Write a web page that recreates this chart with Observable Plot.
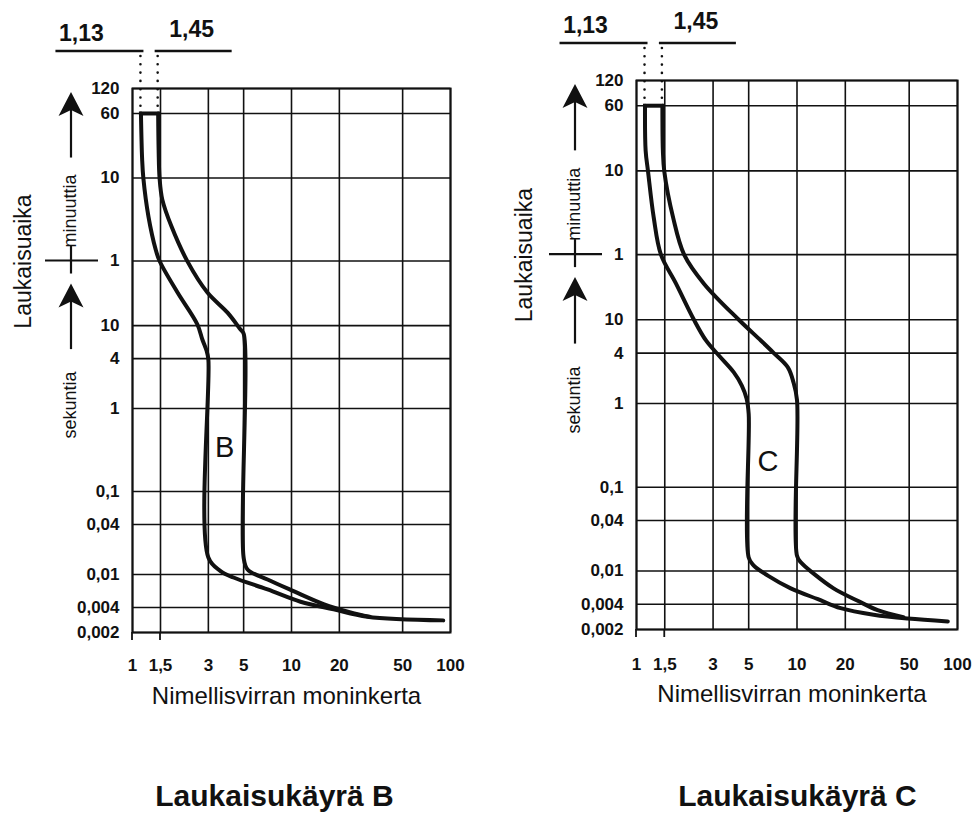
<!DOCTYPE html>
<html>
<head>
<meta charset="utf-8">
<script src="https://cdn.jsdelivr.net/npm/d3@7"></script>
<script src="https://cdn.jsdelivr.net/npm/@observablehq/plot@0.6"></script>
<style>
  body { margin: 0; background: #fff; }
  #wrap { position: relative; width: 973px; height: 818px; overflow: hidden; font-family: "Liberation Sans", Arial, sans-serif; background: #fff; }
  .panel { position: absolute; top: 0; }
  .title { position: absolute; font-weight: bold; font-size: 30px; line-height: 30px; white-space: nowrap; transform: translateX(-50%); color: #111; }
</style>
</head>
<body>
<div id="wrap"></div>
<script>
// ---- axis ticks (x: multiple of rated current, y: trip time in seconds) ----
const xTicks = [1, 1.5, 3, 5, 10, 20, 50, 100];
const xTickLabels = ["1", "1,5", "3", "5", "10", "20", "50", "100"];
const yTicks = [7200, 3600, 600, 60, 10, 4, 1, 0.1, 0.04, 0.01, 0.004, 0.002];
const yTickLabels = ["120", "60", "10", "1", "10", "4", "1", "0,1", "0,04", "0,01", "0,004", "0,002"];
const thresholds = [1.13, 1.45];
const thresholdLabels = ["1,13", "1,45"];
const titles = ["Laukaisukäyrä B", "Laukaisukäyrä C"];
const xLabel = "Nimellisvirran moninkerta";
const yLabel = "Laukaisuaika";
const minuteLabel = "minuuttia";
const secondLabel = "sekuntia";

// ---- curve B (m = multiple of rated current, t = seconds) ----
const bLower = [
  {m: 1.13, t: 3600}, {m: 1.15, t: 1000}, {m: 1.17, t: 600}, {m: 1.26, t: 206},
  {m: 1.4, t: 82}, {m: 1.48, t: 60}, {m: 1.92, t: 25}, {m: 2.56, t: 10.3},
  {m: 2.75, t: 6.8}, {m: 2.92, t: 5.0}, {m: 3, t: 3.9}, {m: 3, t: 0.016},
  {m: 3.58, t: 0.011}, {m: 4.32, t: 0.0092}, {m: 7.07, t: 0.0066}, {m: 11.4, t: 0.0047},
  {m: 18.4, t: 0.0038}, {m: 30, t: 0.0031}, {m: 90, t: 0.0028}
];
const bUpper = [
  {m: 1.45, t: 3600}, {m: 1.46, t: 1300}, {m: 1.48, t: 600}, {m: 1.54, t: 330},
  {m: 1.76, t: 156}, {m: 2.22, t: 59}, {m: 2.96, t: 25}, {m: 3.96, t: 14.3},
  {m: 4.78, t: 8.95}, {m: 5, t: 8.0}, {m: 5, t: 0.016}, {m: 5.29, t: 0.0115},
  {m: 7.07, t: 0.0087}, {m: 10.3, t: 0.0063}, {m: 15.9, t: 0.0044}, {m: 23.5, t: 0.0035},
  {m: 31, t: 0.0031}
];
// ---- curve C ----
const cLower = [
  {m: 1.13, t: 3600}, {m: 1.14, t: 1050}, {m: 1.18, t: 590}, {m: 1.28, t: 167},
  {m: 1.42, t: 60}, {m: 1.76, t: 27.2}, {m: 2.28, t: 10}, {m: 2.71, t: 5.66},
  {m: 3.26, t: 3.74}, {m: 4.04, t: 2.35}, {m: 4.53, t: 1.64}, {m: 4.85, t: 1.15},
  {m: 5, t: 0.75}, {m: 5, t: 0.0145}, {m: 5.38, t: 0.0116}, {m: 6.58, t: 0.0088},
  {m: 9.14, t: 0.0062}, {m: 13.5, t: 0.0046}, {m: 18.7, t: 0.0036}, {m: 30, t: 0.003},
  {m: 49, t: 0.0027}, {m: 87, t: 0.0025}
];
const cUpper = [
  {m: 1.45, t: 3600}, {m: 1.46, t: 1050}, {m: 1.49, t: 590}, {m: 1.69, t: 167},
  {m: 1.98, t: 60}, {m: 2.63, t: 27}, {m: 4.34, t: 10}, {m: 5.95, t: 5.65},
  {m: 7.17, t: 4}, {m: 8.77, t: 2.7}, {m: 9.5, t: 1.8}, {m: 10, t: 1.1},
  {m: 10, t: 0.0152}, {m: 10.6, t: 0.0126}, {m: 12.7, t: 0.0093}, {m: 16.9, t: 0.0062},
  {m: 23.9, t: 0.0044}, {m: 31.8, t: 0.0034}, {m: 46, t: 0.0028}
];
const bLetter = [{m: 3.8, t: 0.34, label: "B"}];
const cLetter = [{m: 6.6, t: 0.2, label: "C"}];

const ink = "#111";
const font = "Liberation Sans, Arial, sans-serif";

const panels = [
  {left: 0, width: 486, marginLeft: 132, marginRight: 36, marginTop: 88, marginBottom: 88,
   lower: bLower, upper: bUpper, letter: bLetter, xPad: 26, labelDy: 71, labelDx: -5, yLabelDx: -109,
   title: titles[0], titleX: 274.5},
  {left: 490, width: 483, marginLeft: 146, marginRight: 16, marginTop: 80, marginBottom: 91,
   lower: cLower, upper: cUpper, letter: cLetter, xPad: 28, labelDy: 72, labelDx: -5, yLabelDx: -112,
   title: titles[1], titleX: 797.5}
];

const wrap = document.getElementById("wrap");

function arrow(g, x, tipY, bottomY) {
  g.append("line").attr("x1", x).attr("x2", x).attr("y1", tipY + 16).attr("y2", bottomY)
    .attr("stroke", ink).attr("stroke-width", 2.2);
  g.append("path")
    .attr("d", `M${x},${tipY} L${x + 12.5},${tipY + 24} L${x},${tipY + 18} L${x - 12.5},${tipY + 24} Z`)
    .attr("fill", ink).attr("stroke", "none");
}

function decorate(svg, p) {
  const sx = svg.scale("x"), sy = svg.scale("y");
  const X = v => sx.apply(v), Y = v => sy.apply(v);
  const g = d3.select(svg).append("g").attr("class", "deco");
  const fl = p.marginLeft;
  const top = Y(yTicks[0]);
  const ax = fl - 61;
  const lineY = top - 37;
  const x0 = X(thresholds[0]), x1 = X(thresholds[1]);
  // threshold leader lines
  g.append("line").attr("x1", x0 - 85).attr("x2", x0 + 3).attr("y1", lineY).attr("y2", lineY)
    .attr("stroke", ink).attr("stroke-width", 2.4);
  g.append("line").attr("x1", x1 - 3).attr("x2", x1 + 74).attr("y1", lineY).attr("y2", lineY)
    .attr("stroke", ink).attr("stroke-width", 2.4);
  g.append("text").attr("x", x0 - 59).attr("y", top - 47).attr("text-anchor", "middle")
    .attr("font-size", 23).attr("font-weight", "bold").attr("font-family", font).attr("fill", ink)
    .text(thresholdLabels[0]);
  g.append("text").attr("x", x1 + 34).attr("y", top - 51).attr("text-anchor", "middle")
    .attr("font-size", 23).attr("font-weight", "bold").attr("font-family", font).attr("fill", ink)
    .text(thresholdLabels[1]);
  // dotted verticals
  for (const xv of [x0, x1]) {
    g.append("line").attr("x1", xv).attr("x2", xv).attr("y1", lineY + 5).attr("y2", Y(3600) - 3)
      .attr("stroke", ink).attr("stroke-width", 2.6).attr("stroke-linecap", "round")
      .attr("stroke-dasharray", "0,8.3");
  }
  // arrows
  arrow(g, ax, top + 4, Y(600) - 20);
  arrow(g, ax, Y(60) + 23, Y(4) - 9);
  // separator at 1 minute
  g.append("line").attr("x1", fl - 87).attr("x2", fl - 34).attr("y1", Y(60)).attr("y2", Y(60))
    .attr("stroke", ink).attr("stroke-width", 2.2);
  g.append("line").attr("x1", ax).attr("x2", ax).attr("y1", Y(60) - 15).attr("y2", Y(60) + 13)
    .attr("stroke", ink).attr("stroke-width", 2.2);
  // rotated texts
  const rtext = (x, y, size, str) => g.append("text")
    .attr("transform", `translate(${x},${y}) rotate(-90)`)
    .attr("text-anchor", "middle").attr("dy", "0.35em")
    .attr("font-size", size).attr("font-family", font).attr("fill", ink).text(str);
  rtext(ax - 1, (Y(600) + Y(60)) / 2 - 8, 18, minuteLabel);
  rtext(ax - 1, Y(1) - 3, 18, secondLabel);
  rtext(fl + p.yLabelDx, Y(60) + 1, 23, yLabel);
  // short tick marks below the frame at 1 and 1,5
  const yb = Y(yTicks[yTicks.length - 1]);
  for (const v of [xTicks[0], xTicks[1]]) {
    g.append("line").attr("x1", X(v)).attr("x2", X(v)).attr("y1", yb).attr("y2", yb + 8)
      .attr("stroke", ink).attr("stroke-width", 1.8);
  }
}

for (const p of panels) {
  const cap = [p.lower[0], p.upper[0]];
  const svg = Plot.plot({
    width: p.width,
    height: 720,
    marginLeft: p.marginLeft,
    marginRight: p.marginRight,
    marginTop: p.marginTop,
    marginBottom: p.marginBottom,
    style: {fontFamily: font, background: "white", overflow: "visible", color: ink},
    x: {type: "log", domain: [1, 100], label: null, axis: null},
    y: {type: "log", domain: [0.002, 7200], label: null, axis: null},
    marks: [
      Plot.gridX(xTicks, {stroke: ink, strokeOpacity: 1, strokeWidth: 1.6}),
      Plot.gridY(yTicks, {stroke: ink, strokeOpacity: 1, strokeWidth: 1.6}),
      Plot.frame({stroke: ink, strokeWidth: 2}),
      Plot.text(xTicks, {x: d => d, text: (d, i) => xTickLabels[i], frameAnchor: "bottom",
        lineAnchor: "top", dy: p.xPad, fontSize: 17, fontWeight: "bold", fill: ink}),
      Plot.text(yTicks, {y: d => d, text: (d, i) => yTickLabels[i], frameAnchor: "left",
        textAnchor: "end", dx: -13, fontSize: 17, fontWeight: "bold", fill: ink}),
      Plot.line(p.lower, {x: "m", y: "t", curve: "catmull-rom", stroke: ink, strokeWidth: 4,
        strokeLinejoin: "round", strokeLinecap: "round"}),
      Plot.line(p.upper, {x: "m", y: "t", curve: "catmull-rom", stroke: ink, strokeWidth: 4,
        strokeLinejoin: "round", strokeLinecap: "round"}),
      Plot.line(cap, {x: "m", y: "t", stroke: ink, strokeWidth: 4, strokeLinecap: "square"}),
      Plot.text(p.letter, {x: "m", y: "t", text: "label", fontSize: 29, fill: ink}),
      Plot.text([xLabel], {text: d => d, frameAnchor: "bottom", dy: p.labelDy, dx: p.labelDx,
        fontSize: 24, fill: ink})
    ]
  });
  decorate(svg, p);
  const holder = document.createElement("div");
  holder.className = "panel";
  holder.style.left = p.left + "px";
  holder.appendChild(svg);
  wrap.appendChild(holder);

  const t = document.createElement("div");
  t.className = "title";
  t.style.left = p.titleX + "px";
  t.style.top = "781px";
  t.textContent = p.title;
  wrap.appendChild(t);
}
</script>
</body>
</html>
